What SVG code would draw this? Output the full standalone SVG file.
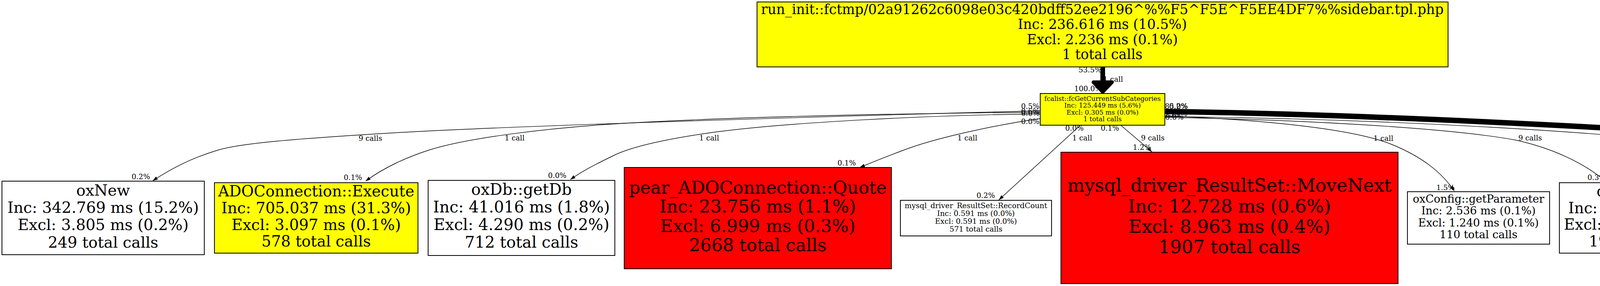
<svg xmlns="http://www.w3.org/2000/svg" width="5279" height="731" viewBox="0 0 5279 731">
<style>
text{font-family:"DejaVu Serif","Liberation Serif",serif;fill:#000}
.n rect{stroke:#000;stroke-width:2}
.n text{text-anchor:middle}
.y{fill:#ffff00}.r{fill:#ff0000}.w{fill:#ffffff}
.e{fill:none;stroke:#000;stroke-width:1.4}
.el{font-size:18.5px}
</style>
<defs>
<marker id="ah" viewBox="0 0 14 10" markerUnits="userSpaceOnUse" markerWidth="14" markerHeight="10" refX="13" refY="5" orient="auto">
<path d="M0,0.5 L13,5 L0,9.5 z" fill="#000"/>
</marker>
</defs>
<rect width="5279" height="731" fill="#fff"/>

<g id="connectors">
<g id="e-top">
<text class="el" x="2761" y="185">53.5%</text>
<text class="el" x="2824" y="209">1 call</text>
<text class="el" x="2750" y="233">100.0%</text>
<path d="M2823,171 L2823,212" fill="none" stroke="#000" stroke-width="12"/>
<polygon points="2799,210 2847,210 2823,235" fill="#000" stroke="#000" stroke-width="9" stroke-linejoin="round"/>
</g>
<g id="e-oxNew">
<path class="e" d="M2663,283 C2100,298 1300,322 1000,340 C750,355 620,366 560,383 C490,404 440,430 391,462" marker-end="url(#ah)"/>
<text class="el" x="2614" y="278">0.5%</text>
<text class="el" x="918" y="360">9 calls</text>
<text class="el" x="337" y="458">0.2%</text>
</g>
<g id="e-ado">
<path class="e" d="M2663,287 C2300,290 1900,298 1600,315 C1400,327 1200,352 1100,383 C1040,402 980,430 936,463" marker-end="url(#ah)"/>
<text class="el" x="2614" y="291">0.6%</text>
<text class="el" x="1292" y="359">1 call</text>
<text class="el" x="880" y="460">0.1%</text>
</g>
<g id="e-getdb">
<path class="e" d="M2663,291 C2400,294 2000,312 1800,342 C1680,360 1610,378 1570,398 C1520,422 1490,438 1460,459" marker-end="url(#ah)"/>
<text class="el" x="2614" y="296">0.0%</text>
<text class="el" x="1790" y="359">1 call</text>
<text class="el" x="1403" y="455">0.0%</text>
</g>
<g id="e-quote">
<path class="e" d="M2663,303 C2560,318 2400,350 2310,385 C2270,400 2240,412 2201,428" marker-end="url(#ah)"/>
<text class="el" x="2614" y="317">0.0%</text>
<text class="el" x="2451" y="359">1 call</text>
<text class="el" x="2144" y="423">0.1%</text>
</g>
<g id="e-recordcount">
<path class="e" d="M2766,320 L2557,511" marker-end="url(#ah)"/>
<text class="el" x="2727" y="334">0.0%</text>
<text class="el" x="2745" y="359">1 call</text>
<text class="el" x="2500" y="506">0.2%</text>
</g>
<g id="e-movenext">
<path class="e" d="M2869,320 L2949,388" marker-end="url(#ah)"/>
<text class="el" x="2818" y="334">0.1%</text>
<text class="el" x="2921" y="359">9 calls</text>
<text class="el" x="2900" y="383">1.2%</text>
</g>
<g id="e-oxconfig">
<path class="e" d="M2982,296 C3200,305 3450,325 3560,368 C3640,400 3690,440 3723,488" marker-end="url(#ah)"/>
<text class="el" x="3516" y="360">1 call</text>
<text class="el" x="3677" y="486">1.5%</text>
</g>
<g id="e-set">
<path class="e" d="M2982,300 C3300,305 3700,325 3880,358 C3980,380 4060,420 4112,465" marker-end="url(#ah)"/>
<text class="el" x="2983" y="306">0.0%</text>
<text class="el" x="3887" y="359">9 calls</text>
<text class="el" x="4064" y="460">0.3%</text>
</g>
<g id="e-load">
<path class="e" d="M2982,298 C3500,302 4100,335 4380,372 C4470,380 4530,440 4581,497" marker-end="url(#ah)"/>
<text class="el" x="2981" y="297">13.4%</text>
<text class="el" x="4346" y="359">9 calls</text>
<text class="el" x="4522" y="493">12.3%</text>
</g>
<g id="e-fc1">
<text class="el" x="2982" y="278">85.0%</text>
<text class="el" x="2993" y="278">0.2%</text>
<text class="el" x="4701" y="359">9 calls</text>
<text class="el" x="4898" y="495">100.0%</text>
<path d="M2982,285 C3500,292 4100,325 4440,346 C4540,352 4660,340 4730,365 C4820,395 4900,420 4948,464" fill="none" stroke="#000" stroke-width="14"/>
<polygon points="4963,461 4936,471 4962,500" fill="#000" stroke="#000" stroke-width="10" stroke-linejoin="round"/>
</g>
</g>

<g id="node-run_init" class="n" style="font-size:34.8px">
<rect class="y" x="1938" y="5" width="1769" height="166"/>
<text x="2822" y="35.5">run_init::fctmp/02a91262c6098e03c420bdff52ee2196^%%F5^F5E^F5EE4DF7%%sidebar.tpl.php</text>
<text x="2822" y="74">Inc: 236.616 ms (10.5%)</text>
<text x="2822" y="112.5">Excl: 2.236 ms (0.1%)</text>
<text x="2822" y="151">1 total calls</text>
</g>
<g id="node-fcGetCurrentSubCategories" class="n" style="font-size:16.6px">
<rect class="y" x="2663" y="239" width="319" height="81"/>
<text x="2822.5" y="257.5">fcalist::fcGetCurrentSubCategories</text>
<text x="2822.5" y="275">Inc: 125.449 ms (5.6%)</text>
<text x="2822.5" y="292.5">Excl: 0.305 ms (0.0%)</text>
<text x="2822.5" y="310">1 total calls</text>
</g>
<g id="node-oxNew" class="n" style="font-size:39.4px">
<rect class="w" x="5" y="463" width="518" height="188"/>
<text x="264" y="500">oxNew</text>
<text x="264" y="544">Inc: 342.769 ms (15.2%)</text>
<text x="264" y="588">Excl: 3.805 ms (0.2%)</text>
<text x="264" y="633">249 total calls</text>
</g>
<g id="node-ADOConnection-Execute" class="n" style="font-size:39px">
<rect class="y" x="549" y="467" width="521" height="180"/>
<text x="809.5" y="502">ADOConnection::Execute</text>
<text x="809.5" y="545">Inc: 705.037 ms (31.3%)</text>
<text x="809.5" y="588">Excl: 3.097 ms (0.1%)</text>
<text x="809.5" y="630">578 total calls</text>
</g>
<g id="node-oxDb-getDb" class="n" style="font-size:40.5px">
<rect class="w" x="1096" y="461" width="478" height="192"/>
<text x="1335" y="498">oxDb::getDb</text>
<text x="1335" y="543">Inc: 41.016 ms (1.8%)</text>
<text x="1335" y="588">Excl: 4.290 ms (0.2%)</text>
<text x="1335" y="633">712 total calls</text>
</g>
<g id="node-pear_ADOConnection-Quote" class="n" style="font-size:45px">
<rect class="r" x="1598" y="428" width="684" height="259"/>
<text x="1940" y="495">pear_ADOConnection::Quote</text>
<text x="1940" y="543">Inc: 23.756 ms (1.1%)</text>
<text x="1940" y="593">Excl: 6.999 ms (0.3%)</text>
<text x="1940" y="642">2668 total calls</text>
</g>
<g id="node-RecordCount" class="n" style="font-size:18.9px">
<rect class="w" x="2305" y="512" width="387" height="91"/>
<text x="2498.5" y="532">mysql_driver_ResultSet::RecordCount</text>
<text x="2498.5" y="552">Inc: 0.591 ms (0.0%)</text>
<text x="2498.5" y="572">Excl: 0.591 ms (0.0%)</text>
<text x="2498.5" y="592">571 total calls</text>
</g>
<g id="node-MoveNext" class="n" style="font-size:46.5px">
<rect class="r" x="2716" y="389" width="863" height="336"/>
<text x="3147.5" y="490">mysql_driver_ResultSet::MoveNext</text>
<text x="3147.5" y="543">Inc: 12.728 ms (0.6%)</text>
<text x="3147.5" y="595">Excl: 8.963 ms (0.4%)</text>
<text x="3147.5" y="647">1907 total calls</text>
</g>
<g id="node-oxConfig-getParameter" class="n" style="font-size:27.8px">
<rect class="w" x="3603" y="490" width="364" height="134"/>
<text x="3785" y="518">oxConfig::getParameter</text>
<text x="3785" y="548">Inc: 2.536 ms (0.1%)</text>
<text x="3785" y="579">Excl: 1.240 ms (0.1%)</text>
<text x="3785" y="609">110 total calls</text>
</g>
<g id="node-oxBase-set" class="n" style="font-size:38.7px">
<rect class="w" x="3992" y="467" width="453" height="180"/>
<text x="4218.5" y="502">oxBase::__set</text>
<text x="4218.5" y="545">Inc: 7.559 ms (0.3%)</text>
<text x="4218.5" y="587">Excl: 2.964 ms (0.1%)</text>
<text x="4218.5" y="630">1978 total calls</text>
</g>
<g id="node-oxBase-load" class="n" style="font-size:23.4px">
<rect class="y" x="4471" y="498" width="301" height="118"/>
<text x="4621.5" y="523">oxBase::load</text>
<text x="4621.5" y="549">Inc: 136.471 ms (6.1%)</text>
<text x="4621.5" y="576">Excl: 0.934 ms (0.0%)</text>
<text x="4621.5" y="602">58 total calls</text>
</g>
<g id="node-fcGetCurrentSubCategories1" class="n" style="font-size:22.7px">
<rect class="y" x="4795" y="501" width="478" height="112"/>
<text x="5034" y="525">fcalist::fcGetCurrentSubCategories@1</text>
<text x="5034" y="550">Inc: 106.619 ms (4.7%)</text>
<text x="5034" y="575">Excl: 0.850 ms (0.0%)</text>
<text x="5034" y="599">9 total calls</text>
</g>
</svg>
